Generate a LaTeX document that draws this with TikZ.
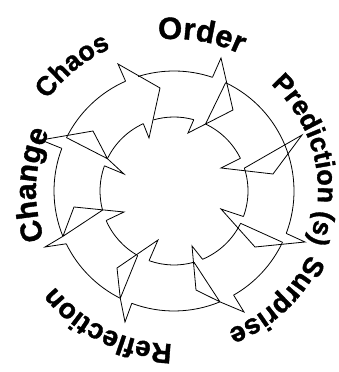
\documentclass[tikz,border=0pt]{standalone}
\usepackage{fontspec}
\setmainfont{Liberation Sans}
\newfontfamily\ringfont{Liberation Sans}[BoldFeatures={FakeBold=1.2}]
\usetikzlibrary{decorations.text}

\begin{document}
\begin{tikzpicture}[x=1pt, y=1pt,
  ring/.style={draw=black, line width=0.8pt},
  head/.style={draw=black, line width=0.8pt, line join=miter},
  lbl/.style 2 args={decorate, decoration={text along path,
    text align=center, text={|\ringfont\bfseries\fontsize{#1}{#1}\selectfont|#2}}}
]
\useasboundingbox (0,0) rectangle (339,372);
\begin{scope}[shift={(174,181)}]
% outer ring, broken where the heads sit
\foreach \a/\b in {-20.7/64.5, 71.3/107.4, 113.8/153.6, 159.2/202.2,
                   206.1/243.4, 249.4/292.5, 299.8/334.7}
  \draw[ring] (\a:120) arc[start angle=\a, end angle=\b, radius=120];
% inner ring
\foreach \a/\b in {-20.2/18, 26.2/64.8, 74.5/106.1, 114.5/154.1,
                   160.1/195, 203.5/240.6, 250.3/285.7, 292.7/334.1}
  \draw[ring] (\a:74) arc[start angle=\a, end angle=\b, radius=74];
% arrow heads
\draw[head] (113.8:120) -- (-56,127) -- (-14,103) -- (-25,53) -- (114.5:74);
\draw[head] (71.3:120) -- (47,133) -- (59,81) -- (64.8:74) -- (14,58) -- (74.5:74)
  (64.5:120) -- (64.8:74);
\draw[head] (26.2:74) -- (47,23) -- (99,17) -- (128,56) -- (18:74);
\draw[head] (-20.7:120) -- (131,-51) -- (81,-56) -- (47,-18) -- (-20.2:74)
  (-25.3:120) -- (-25.9:74);
\draw[head] (-67.3:74) -- (18,-55) -- (22,-99) -- (-67.5:120) -- (70,-121) -- (-60.2:120)
  (-74.3:74) -- (-67.5:120);
\draw[head] (-109.7:74) -- (-16,-49) -- (-57,-77) -- (-116.6:120) -- (-49,-131) -- (-110.6:120)
  (-119.4:74) -- (-116.6:120);
\draw[head] (-156.5:74) -- (-50,-21) -- (-100,-16) -- (-157.8:120) -- (-129,-56) -- (-153.9:120)
  (-165:74) -- (-157.8:120);
\draw[head] (159.2:120) -- (-133,51) -- (-81,60) -- (154.1:74) -- (-50,17) -- (160.1:74)
  (153.6:120) -- (154.1:74);
% labels round the ring
\path[lbl={27}{Chaos}] (199:156) arc[start angle=199, end angle=59, radius=156];
\path[lbl={31}{Order}] (150:152) arc[start angle=150, end angle=10, radius=152];
\path[lbl={27}{Prediction (s)}] (83.5:144) arc[start angle=83.5, end angle=-56.5, radius=144];
\path[lbl={28}{Surprise}] (23:149) arc[start angle=23, end angle=-117, radius=149];
\path[lbl={28}{Reflection}] (-46:153) arc[start angle=-46, end angle=-186, radius=153];
\path[lbl={30}{Change}] (247.5:138) arc[start angle=247.5, end angle=107.5, radius=138];
\end{scope}
\end{tikzpicture}
\end{document}
